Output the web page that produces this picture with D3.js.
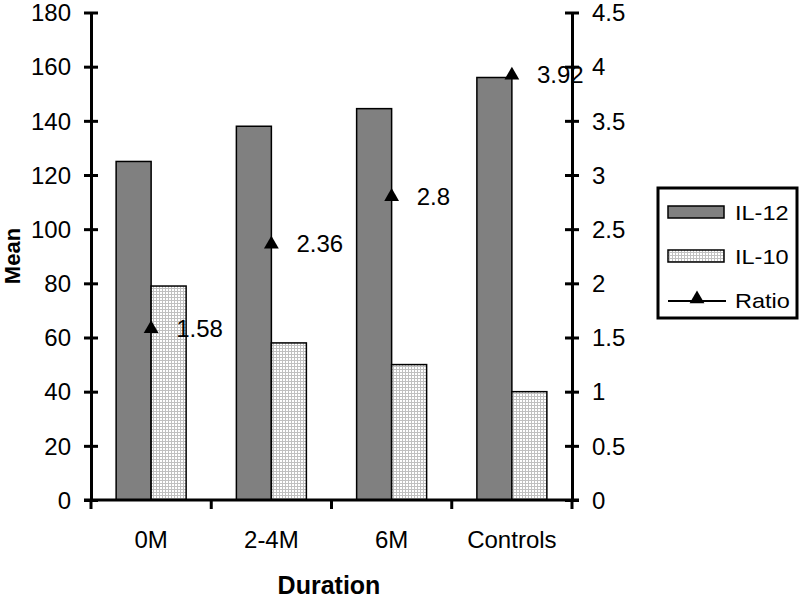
<!DOCTYPE html>
<html><head><meta charset="utf-8">
<script src="https://cdn.jsdelivr.net/npm/d3@7"></script>
<style>body{margin:0;background:#fff}svg{display:block}text{font-family:"Liberation Sans",Arial,sans-serif}</style>
</head><body><svg id="c" width="800" height="599"></svg>
<script>
const categories = ["0M","2-4M","6M","Controls"];
const il12 = [125, 138, 144.5, 156];
const il10 = [79, 58, 50, 40];
const ratio = [1.58, 2.36, 2.8, 3.92];
const leftTicks = [0,20,40,60,80,100,120,140,160,180];
const rightTicks = [0,0.5,1,1.5,2,2.5,3,3.5,4,4.5];

const svg = d3.select("#c");
const L = 91, R = 572, T = 12.5, B = 500;
const x = d3.scaleBand().domain(categories).range([L, R]);
const yL = d3.scaleLinear().domain([0,180]).range([B, T]);
const yR = d3.scaleLinear().domain([0,4.5]).range([B, T]);
const bw = 35;

const defs = svg.append("defs");
const pat = defs.append("pattern").attr("id","grid").attr("patternUnits","userSpaceOnUse").attr("width",3).attr("height",3);
pat.append("rect").attr("width",3).attr("height",3).attr("fill","#fff");
pat.append("path").attr("d","M0,0.5H3M0.5,0V3").attr("stroke","#c0c0c0").attr("stroke-width",1);

const g = svg.append("g");
g.selectAll(".b12").data(categories).join("rect")
  .attr("x", d => x(d) + x.bandwidth()/2 - bw)
  .attr("y", (d,i) => yL(il12[i])).attr("width", bw)
  .attr("height", (d,i) => B - yL(il12[i]))
  .attr("fill","#808080").attr("stroke","#000").attr("stroke-width",1.5);
g.selectAll(".b10").data(categories).join("rect")
  .attr("x", d => x(d) + x.bandwidth()/2)
  .attr("y", (d,i) => yL(il10[i])).attr("width", bw)
  .attr("height", (d,i) => B - yL(il10[i]))
  .attr("fill","url(#grid)").attr("stroke","#000").attr("stroke-width",1.5);

const aL = d3.axisLeft(yL).tickValues(leftTicks).tickSizeInner(7).tickSizeOuter(0).tickPadding(13);
const gl = svg.append("g").attr("transform",`translate(${L},0)`).call(aL);
gl.selectAll(".tick line").attr("x1",7).attr("x2",-7);
const aR = d3.axisRight(yR).tickValues(rightTicks).tickFormat(d => String(d)).tickSizeInner(7).tickSizeOuter(0).tickPadding(13);
const gr = svg.append("g").attr("transform",`translate(${R},0)`).call(aR);
gr.selectAll(".tick line").attr("x1",-7).attr("x2",7);
[gl, gr].forEach(a => {
  a.select(".domain").attr("stroke","#000").attr("stroke-width",3);
  a.selectAll(".tick line").attr("stroke","#000").attr("stroke-width",3);
  a.selectAll("text").attr("font-size",24).attr("fill","#000").attr("dy","0.34em");
});
const gx = svg.append("g").attr("transform",`translate(0,${B})`);
gx.append("line").attr("x1",L-7).attr("x2",R+7).attr("stroke","#000").attr("stroke-width",3);
const xt = [L, ...categories.map(c => x(c) + x.bandwidth())];
gx.selectAll(".xt").data(xt).join("line").attr("x1",d=>d).attr("x2",d=>d).attr("y1",0).attr("y2",9).attr("stroke","#000").attr("stroke-width",3);
gx.selectAll(".xl").data(categories).join("text")
  .attr("x", d => x(d) + x.bandwidth()/2).attr("y", 48)
  .attr("text-anchor","middle").attr("font-size",24).text(d => d);

const tri = d3.symbol().type(d3.symbolTriangle).size(95);
g.selectAll(".m").data(categories).join("path")
  .attr("d", tri)
  .attr("transform", (d,i) => `translate(${x(d)+x.bandwidth()/2},${yR(ratio[i])})`)
  .attr("fill","#000");
g.selectAll(".ml").data(categories).join("text")
  .attr("x", d => x(d) + x.bandwidth()/2 + 25)
  .attr("y", (d,i) => yR(ratio[i]) + 8)
  .attr("font-size",24).text((d,i) => String(ratio[i]));

svg.append("text").attr("transform","translate(20,256) rotate(-90)").attr("text-anchor","middle")
  .attr("font-size",22).attr("font-weight","bold").text("Mean");
svg.append("text").attr("x",329).attr("y",594).attr("text-anchor","middle")
  .attr("font-size",25).attr("font-weight","bold").text("Duration");

const lg = svg.append("g");
lg.append("rect").attr("x",658).attr("y",188).attr("width",139).attr("height",130).attr("fill","#fff").attr("stroke","#000").attr("stroke-width",3);
const items = [{name:"IL-12",type:"bar",fill:"#808080"},{name:"IL-10",type:"bar",fill:"url(#grid)"},{name:"Ratio",type:"line"}];
items.forEach((it,i) => {
  const cy = 212 + i*44;
  if (it.type === "bar") {
    lg.append("rect").attr("x",668).attr("y",cy-6).attr("width",56).attr("height",12).attr("fill",it.fill).attr("stroke","#000").attr("stroke-width",1.5);
  } else {
    lg.append("line").attr("x1",668).attr("x2",726).attr("y1",cy+1).attr("y2",cy+1).attr("stroke","#000").attr("stroke-width",2);
    lg.append("path").attr("d",tri).attr("transform",`translate(697,${cy-1})`).attr("fill","#000");
  }
  lg.append("text").attr("transform",`translate(735,${cy+8}) scale(1.12,1)`).attr("font-size",21).text(it.name);
});
</script></body></html>
